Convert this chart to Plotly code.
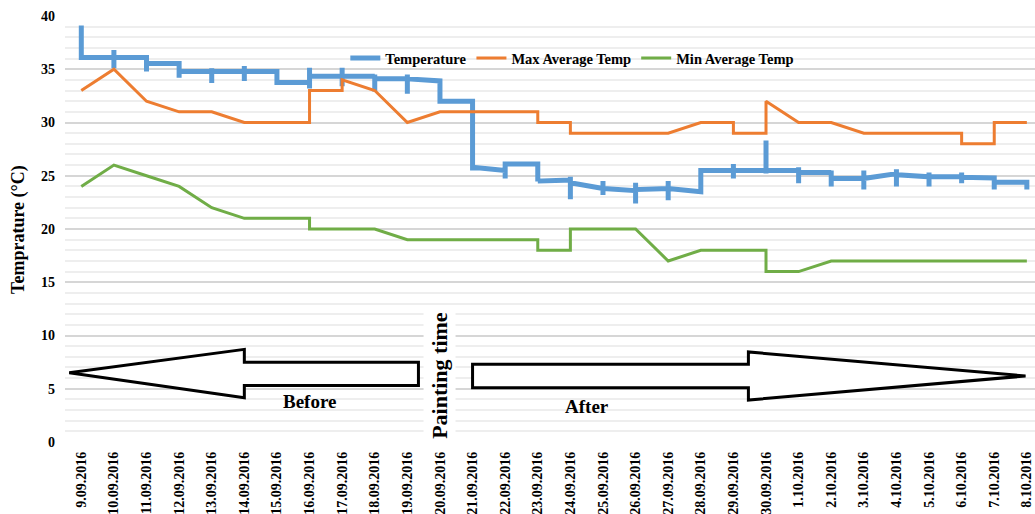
import plotly.graph_objects as go

# ---------------- data ----------------
dates = ["9.09.2016", "10.09.2016", "11.09.2016", "12.09.2016", "13.09.2016",
         "14.09.2016", "15.09.2016", "16.09.2016", "17.09.2016", "18.09.2016",
         "19.09.2016", "20.09.2016", "21.09.2016", "22.09.2016", "23.09.2016",
         "24.09.2016", "25.09.2016", "26.09.2016", "27.09.2016", "28.09.2016",
         "29.09.2016", "30.09.2016", "1.10.2016", "2.10.2016", "3.10.2016",
         "4.10.2016", "5.10.2016", "6.10.2016", "7.10.2016", "8.10.2016"]

# several readings per day (plotted at the same category)
temperature = [
    [39.1, 36.1],
    [36.1, 36.8, 35.1, 36.1],
    [36.1, 34.8, 35.55],
    [35.55, 34.2, 34.8],
    [34.8, 35.1, 33.7, 34.8],
    [34.8, 35.3, 33.9, 34.8],
    [34.8, 33.75],
    [33.75, 35.15, 33.2, 34.35],
    [34.35, 35.15, 33.4, 34.35],
    [34.35, 34.5, 32.9, 34.1],
    [34.1, 34.5, 32.7, 34.1],
    [33.9, 32.0],
    [32.0, 25.5, 25.8],
    [25.5, 26.3, 24.75, 26.1],
    [26.1, 24.45, 24.5],
    [24.6, 24.9, 22.8, 24.35],
    [23.8, 24.5, 23.2, 23.8],
    [23.6, 24.35, 22.4, 23.7],
    [23.8, 24.5, 22.7, 23.8],
    [23.5, 25.5],
    [25.5, 26.1, 24.75, 25.5],
    [25.5, 28.3, 25.2, 25.5],
    [25.5, 25.8, 24.3, 25.3],
    [25.3, 25.5, 24.0, 24.75],
    [24.75, 25.5, 23.7, 24.75],
    [25.2, 25.6, 24.0, 25.1],
    [24.9, 25.3, 24.0, 24.9],
    [24.9, 25.3, 24.3, 24.85],
    [24.8, 23.7, 24.4],
    [24.4, 23.7],
]

max_avg = [
    [33], [35], [32], [31], [31], [30], [30], [30, 33], [33, 34], [33],
    [30], [31], [31], [31], [31, 30], [30, 29], [29], [29], [29], [30],
    [30, 29], [29, 32], [30], [30], [29], [29], [29], [29, 28], [28, 30], [30],
]

min_avg = [
    [24], [26], [25], [24], [22], [21], [21], [21, 20], [20], [20],
    [19], [19], [19], [19], [19, 18], [18, 20], [20], [20], [17], [18],
    [18], [18, 16], [16], [17], [17], [17], [17], [17], [17], [17],
]

y_ticks = [0, 5, 10, 15, 20, 25, 30, 35, 40]


def expand(readings):
    xs, ys = [], []
    for i, day in enumerate(readings):
        for v in day:
            xs.append(i)
            ys.append(v)
    return xs, ys


SERIF = "Liberation Serif, Times New Roman, serif"

fig = go.Figure()
tx, ty = expand(temperature)
mx, my = expand(max_avg)
nx, ny = expand(min_avg)
fig.add_trace(go.Scatter(x=tx, y=ty, mode="lines", name="Temperature",
                         line=dict(color="#5B9BD5", width=5)))
fig.add_trace(go.Scatter(x=mx, y=my, mode="lines", name="Max Average Temp",
                         line=dict(color="#ED7D31", width=3)))
fig.add_trace(go.Scatter(x=nx, y=ny, mode="lines", name="Min Average Temp",
                         line=dict(color="#70AD47", width=3)))

# block arrows (Before / After)
left_arrow = "M -0.37,6.5 L 5.0,8.7 L 5.0,7.5 L 10.34,7.5 L 10.34,5.3 L 5.0,5.3 L 5.0,4.15 Z"
right_arrow = "M 12.0,7.3 L 20.46,7.3 L 20.46,8.45 L 28.96,6.2 L 20.46,3.94 L 20.46,5.1 L 12.0,5.1 Z"
for p in (left_arrow, right_arrow):
    fig.add_shape(type="path", path=p, xref="x", yref="y",
                  line=dict(color="black", width=3), fillcolor="white", layer="above")

fig.add_annotation(x=7.0, y=3.8, xref="x", yref="y", text="Before", showarrow=False,
                   font=dict(family=SERIF, size=19, color="black", weight="bold"))
fig.add_annotation(x=15.5, y=3.3, xref="x", yref="y", text="After", showarrow=False,
                   font=dict(family=SERIF, size=19, color="black", weight="bold"))
fig.add_annotation(x=11.0, y=6.3, xref="x", yref="y", text="Painting time", showarrow=False,
                   textangle=-90, bgcolor="white", borderpad=3,
                   font=dict(family=SERIF, size=22, color="black", weight="bold"))

# y-axis title
fig.add_annotation(x=-0.0485, y=0.5, xref="paper", yref="paper", text="Temprature (°C)",
                   showarrow=False, textangle=-90, xanchor="center", yanchor="middle",
                   font=dict(family=SERIF, size=18, color="black", weight="bold"))

fig.update_layout(
    width=1035, height=514,
    margin=dict(l=65, r=0, t=16, b=72),
    paper_bgcolor="white", plot_bgcolor="white",
    showlegend=True,
    legend=dict(orientation="h", x=0.289, y=0.901, xanchor="left", yanchor="middle",
                bgcolor="rgba(0,0,0,0)",
                font=dict(family=SERIF, size=14.5, color="black", weight="bold")),
    xaxis=dict(range=[-0.5, 29.25], tickmode="array",
               tickvals=list(range(len(dates))), ticktext=dates,
               tickangle=-90, showgrid=False, zeroline=False, showline=False,
               ticks="", ticklabelstandoff=6,
               tickfont=dict(family=SERIF, size=14, color="black", weight="bold")),
    yaxis=dict(range=[0, 40], tickmode="array", tickvals=y_ticks,
               showgrid=True, gridcolor="#d6d6d6", gridwidth=1.5,
               zeroline=False, showline=False, ticks="", ticklabelstandoff=9,
               minor=dict(dtick=1, showgrid=True, gridcolor="#eeeeee", gridwidth=1.5),
               tickfont=dict(family=SERIF, size=14, color="black", weight="bold")),
)

fig.write_html("out.html", config={"displayModeBar": False},
               post_script="document.body.style.margin='0px';document.body.style.overflow='hidden';")
